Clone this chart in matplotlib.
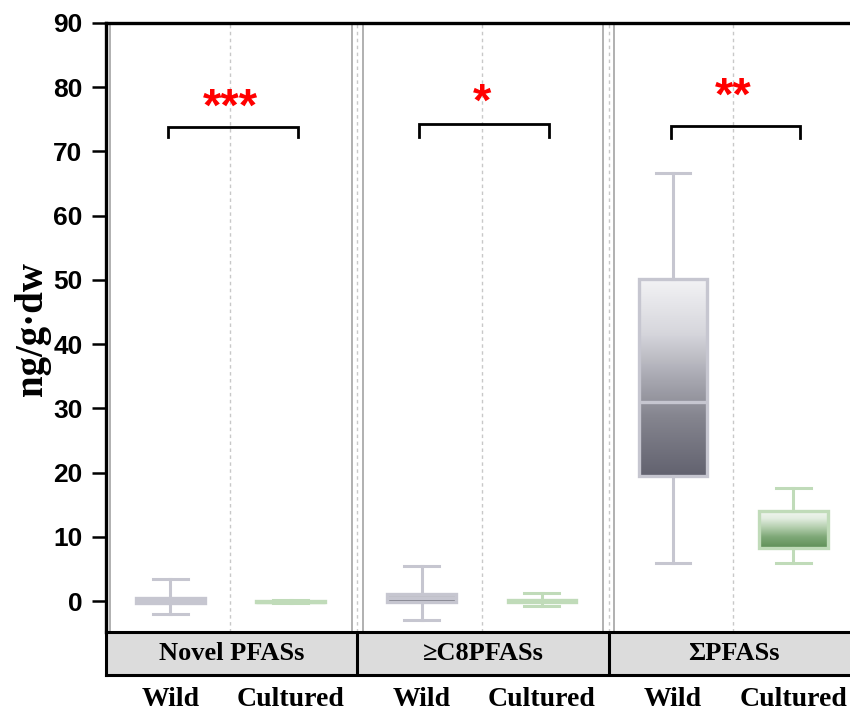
import numpy as np
import matplotlib
matplotlib.use("Agg")
import matplotlib.pyplot as plt
from matplotlib.colors import LinearSegmentedColormap
from matplotlib.transforms import blended_transform_factory

# ---------------- data ----------------
panels = ["Novel PFASs", "\u2265C8PFASs", "\u03a3PFASs"]
groups = ["Wild", "Cultured"]
# per panel: [Wild, Cultured]
whisk_lo = [[-2.0, -0.3], [-3.0, -0.7], [6.0, 6.0]]
q1 = [[-0.3, -0.2], [-0.15, -0.1], [19.4, 8.3]]
median = [[0.1, -0.1], [0.5, 0.0], [31.0, 11.1]]
q3 = [[0.5, 0.0], [1.1, 0.2], [50.2, 14.0]]
whisk_hi = [[3.4, 0.1], [5.4, 1.2], [66.6, 17.6]]
signif = ["***", "*", "**"]
bracket_top = [73.8, 74.3, 74.0]
bracket_leg = [72.3, 72.3, 72.1]
star_y = [76.6, 77.5, 78.4]
yticks = [0, 10, 20, 30, 40, 50, 60, 70, 80, 90]

# ---------------- layout ----------------
PW = 2.09          # panel width (data units)
OFF = [0.535, 1.535]
W, H = 850, 716
fig = plt.figure(figsize=(W / 100, H / 100), dpi=100)
left_px, right_px, top_px, bot_px = 106, 860, 23, 632
ax = fig.add_axes([left_px / W, 1 - bot_px / H, (right_px - left_px) / W, (bot_px - top_px) / H])

edge_cols = ["#c6c6d0", "#c0dbb9"]
cmaps = [
    LinearSegmentedColormap.from_list("w", [(0, "#62626f"), (0.3, "#85858f"), (0.5, "#a9a9b2"),
                                            (0.72, "#d6d6dc"), (1.0, "#f3f3f5")]),
    LinearSegmentedColormap.from_list("c", [(0, "#5f8f57"), (0.3, "#7ea877"), (0.55, "#b2cdac"),
                                            (0.8, "#e2ede0"), (1.0, "#f2f7f1")]),
]

# vertical guide lines
for k in range(3):
    ax.axvline(k * PW + 1.035, color="#c8c8c8", lw=1.0, ls=(0, (2.5, 2.5)), zorder=0)
    if k > 0:
        ax.axvline(k * PW, color="#c8c8c8", lw=1.0, ls=(0, (2.5, 2.5)), zorder=0)
        ax.axvline(k * PW - 0.046, color="#b0b0b0", lw=1.4, zorder=0)
        ax.axvline(k * PW + 0.046, color="#b0b0b0", lw=1.4, zorder=0)
ax.axvline(0.035, color="#b0b0b0", lw=1.4, zorder=0)

# boxes
bw, cw = 0.57, 0.29
grad = np.linspace(0, 1, 256).reshape(-1, 1)
for k in range(3):
    for g in range(2):
        x = k * PW + OFF[g]
        st = [dict(whislo=whisk_lo[k][g], q1=q1[k][g], med=median[k][g],
                   q3=q3[k][g], whishi=whisk_hi[k][g], fliers=[])]
        ec = edge_cols[g]
        mz = 5 if g == 0 else 1.5
        ax.bxp(st, positions=[x], widths=bw, capwidths=cw, patch_artist=True,
               showfliers=False, manage_ticks=False,
               boxprops=dict(facecolor="none", edgecolor=ec, lw=2.4, zorder=4),
               whiskerprops=dict(color=ec, lw=2.2, zorder=3),
               capprops=dict(color=ec, lw=2.2, zorder=3),
               medianprops=dict(color=ec, lw=2.4, zorder=mz))
        lo, hi = q1[k][g], q3[k][g]
        if hi - lo > 1:
            ax.imshow(grad, cmap=cmaps[g], origin="lower", aspect="auto",
                      extent=[x - bw / 2, x + bw / 2, lo, hi], zorder=2,
                      interpolation="bilinear")
ax.set_xlim(0, 3 * PW)
ax.set_ylim(-4.82, 90)

# brackets and stars
for k in range(3):
    xl = k * PW + OFF[0] - 0.02
    xr = k * PW + OFF[0] + 1.06
    ax.plot([xl, xl, xr, xr], [bracket_leg[k], bracket_top[k], bracket_top[k], bracket_leg[k]],
            color="black", lw=2.0, solid_joinstyle="miter", zorder=6)
    ax.text(k * PW + 1.035, star_y[k], signif[k], color="red", fontsize=34,
            fontweight="bold", family="Liberation Sans", ha="center", va="center", zorder=6)

# spines/ticks
for s in ["right", "bottom"]:
    ax.spines[s].set_visible(False)
for s in ["left", "top"]:
    ax.spines[s].set_linewidth(2.4)
ax.set_xticks([])
ax.set_yticks(yticks)
ax.set_yticklabels([str(v) for v in yticks], fontsize=19, fontweight="bold",
                   family="Liberation Sans")
ax.tick_params(axis="y", direction="out", length=10, width=1.8, pad=7)

fig.text(33 / W, 1 - 329 / H, "ng/g\u00b7dw", rotation=90, ha="center", va="center",
         fontsize=28, fontweight="bold", family="Liberation Serif")

# strip
sax = fig.add_axes([left_px / W, 1 - 675 / H, (right_px - left_px) / W, 43 / H])
sax.set_xlim(0, 3 * PW)
sax.set_ylim(0, 1)
sax.set_facecolor("#dcdcdc")
for s in sax.spines.values():
    s.set_linewidth(2.2)
sax.set_xticks([])
sax.set_yticks([])
for k in range(1, 3):
    sax.axvline(k * PW, color="black", lw=2.2)
for k in range(3):
    sax.text(k * PW + PW / 2, 0.5, panels[k], ha="center", va="center", fontsize=19,
             fontweight="bold", family="Liberation Serif")

tr = blended_transform_factory(ax.transData, fig.transFigure)
for k in range(3):
    for g in range(2):
        fig.text(k * PW + OFF[g], 1 - 700 / H, groups[g], transform=tr, ha="center",
                 va="center", fontsize=20, fontweight="bold", family="Liberation Serif")

fig.savefig("out.png", dpi=100)
